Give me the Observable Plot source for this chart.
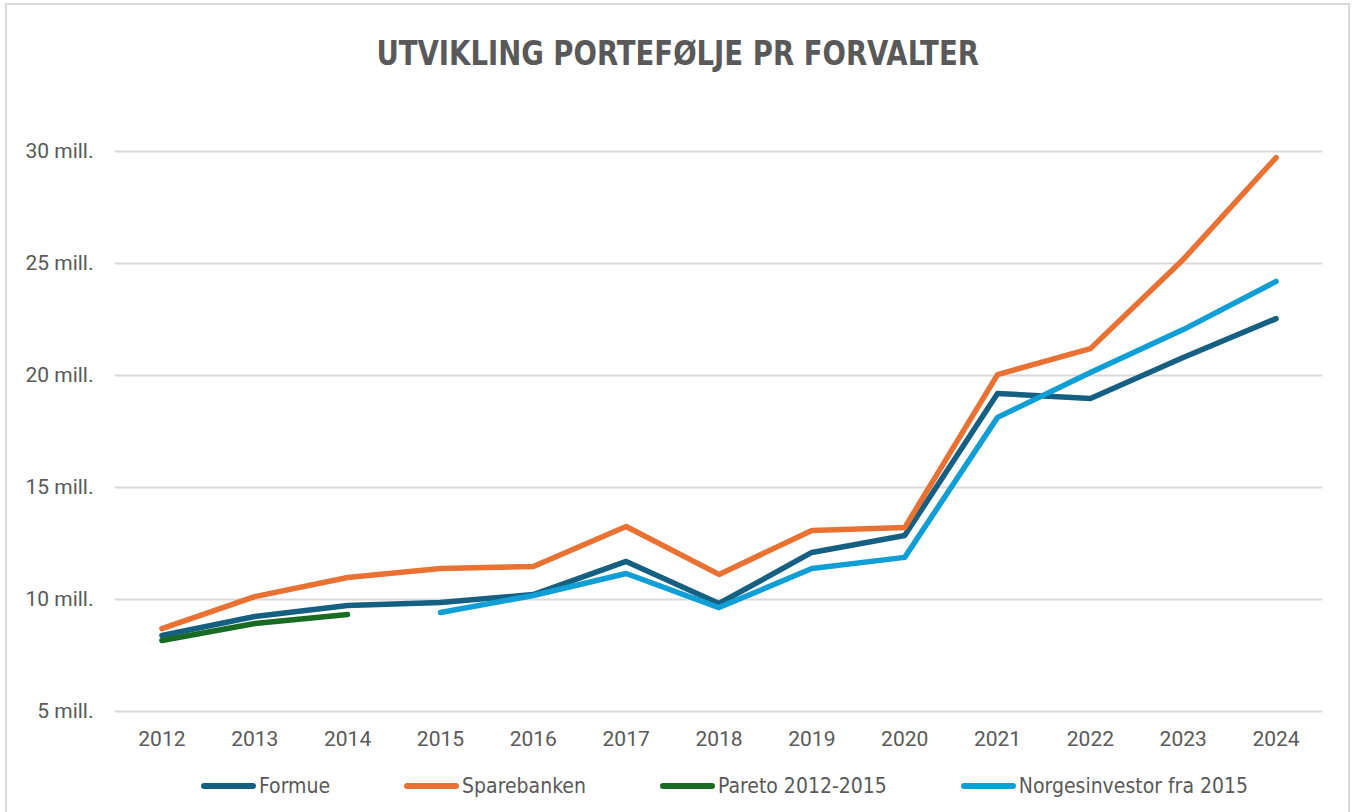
<!DOCTYPE html>
<html><head><meta charset="utf-8">
<script src="https://cdn.jsdelivr.net/npm/d3@7"></script>
<script src="https://cdn.jsdelivr.net/npm/@observablehq/plot@0.6"></script>
<style>
html,body{margin:0;padding:0;background:#fff;overflow:hidden;width:1355px;height:812px;}
#frame{position:absolute;left:5px;top:3px;width:1345px;height:830px;border:2px solid #d9d9d9;box-sizing:border-box;}
#title{position:absolute;left:0;top:33px;width:1355px;text-align:center;font-family:"Liberation Sans Narrow","DejaVu Sans Condensed",Roboto,sans-serif;font-weight:bold;font-size:34px;color:#595959;transform:scaleX(0.9);transform-origin:679px 0;}
#chart{position:absolute;left:0;top:105px;}
#legend{position:absolute;left:201px;top:774px;display:flex;justify-content:flex-start;gap:74px;font-family:"Liberation Sans Narrow","DejaVu Sans Condensed",Roboto,sans-serif;font-size:21px;color:#595959;}
.item{display:flex;align-items:center;}
.sw{display:inline-block;width:55px;height:6px;border-radius:3px;margin-right:3px;}
</style></head>
<body>
<div id="frame"></div>
<div id="title">UTVIKLING PORTEFØLJE PR FORVALTER</div>
<div id="chart"></div>
<div id="legend"></div>
<script>
const years = ["2012","2013","2014","2015","2016","2017","2018","2019","2020","2021","2022","2023","2024"];
const seriesNames = ["Formue","Sparebanken","Pareto 2012-2015","Norgesinvestor fra 2015"];
const seriesColors = ["#156082","#E97132","#196B24","#0F9ED5"];
const formue = [8.39,9.24,9.73,9.87,10.22,11.7,9.82,12.1,12.86,19.2,18.97,20.8,22.54];
const sparebanken = [8.7,10.13,10.98,11.38,11.47,13.26,11.12,13.08,13.21,20.04,21.2,25.18,29.73];
const pareto = [8.17,8.93,9.33,null,null,null,null,null,null,null,null,null,null];
const norgesinvestor = [null,null,null,9.42,10.18,11.16,9.64,11.38,11.88,18.13,20.13,22.05,24.2];
const yTicks = [5,10,15,20,25,30];

const allSeries = [formue,sparebanken,pareto,norgesinvestor];
const data = [];
allSeries.forEach((arr,i)=>arr.forEach((v,j)=>{ if(v!=null) data.push({series:seriesNames[i],year:years[j],value:v}); }));

const plot = Plot.plot({
  width:1355, height:660,
  marginTop:46, marginBottom:54, marginLeft:115, marginRight:33,
  style:{fontFamily:"Roboto, 'Open Sans', sans-serif", fontSize:"21px", color:"#595959", background:"transparent", maxWidth:"none"},
  x:{type:"point", domain:years, padding:0.5, round:false, label:null},
  y:{domain:[5,30], ticks:yTicks, label:null, tickFormat:d=>d+" mill."},
  color:{domain:seriesNames, range:seriesColors},
  marks:[
    Plot.gridY(yTicks,{stroke:"#d9d9d9", strokeOpacity:1, strokeWidth:2}),
    Plot.axisY(yTicks,{tickSize:0, tickPadding:22, fontSize:21, fill:"#595959", tickFormat:d=>d+" mill."}),
    Plot.axisX({tickSize:0, tickPadding:20, fontSize:21, fill:"#595959"}),
    Plot.line(data,{x:"year", y:"value", z:"series", stroke:"series", strokeWidth:5.5, strokeLinecap:"round", strokeLinejoin:"round"})
  ]
});
document.getElementById("chart").appendChild(plot);

const lg = document.getElementById("legend");
seriesNames.forEach((n,i)=>{
  const it=document.createElement("div"); it.className="item";
  const sw=document.createElement("span"); sw.className="sw"; sw.style.background=seriesColors[i];
  const t=document.createElement("span"); t.textContent=n;
  it.appendChild(sw); it.appendChild(t); lg.appendChild(it);
});
</script>
</body></html>
